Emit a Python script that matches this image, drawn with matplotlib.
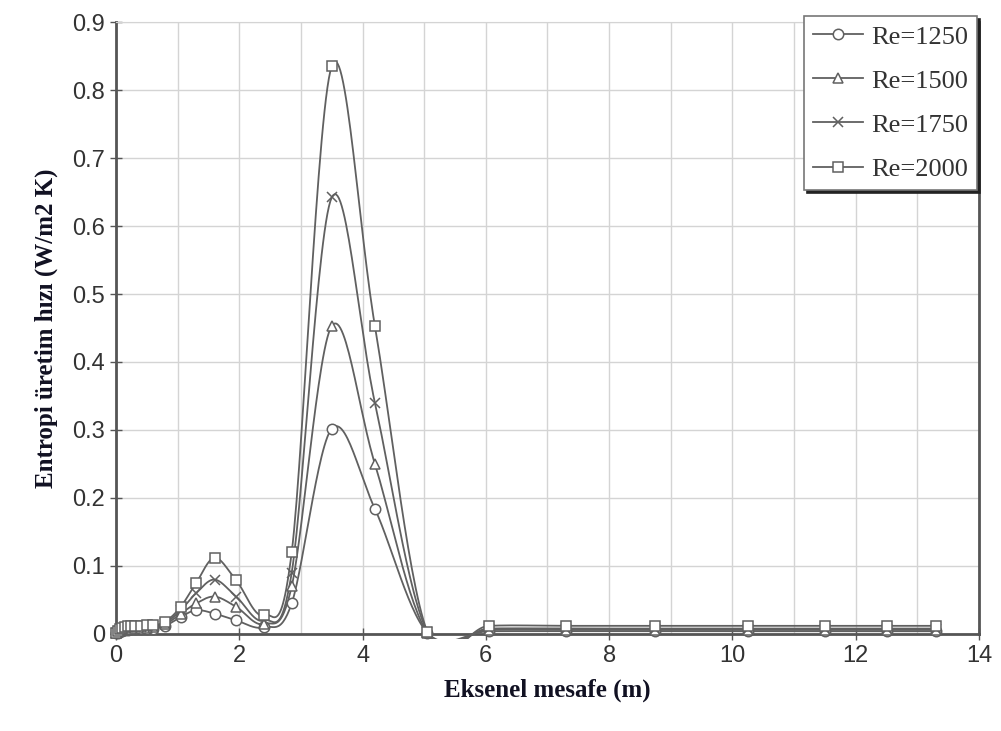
import numpy as np
import matplotlib
matplotlib.use("Agg")
import matplotlib.pyplot as plt
from matplotlib.patches import Rectangle
from matplotlib.ticker import MultipleLocator, FuncFormatter

# ---------------------------------------------------------------------------- #
# data
x = [0, 0.03, 0.07, 0.1, 0.15, 0.2, 0.25, 0.3, 0.4, 0.5, 0.6, 0.8, 1.05, 1.3,
     1.6, 1.95, 2.4, 2.85, 3.5, 4.2, 5.05, 6.05, 7.3, 8.75, 10.25, 11.5, 12.5, 13.3]

re1250 = [0.001, 0.002, 0.004, 0.005, 0.006, 0.006, 0.007, 0.007, 0.007, 0.008, 0.008,
          0.012, 0.025, 0.035, 0.03, 0.02, 0.01, 0.045, 0.302, 0.184, 0.002,
          0.004, 0.004, 0.004, 0.004, 0.004, 0.004, 0.004]
re1500 = [0.001, 0.003, 0.005, 0.006, 0.007, 0.008, 0.008, 0.009, 0.009, 0.009, 0.010,
          0.014, 0.03, 0.045, 0.055, 0.04, 0.015, 0.07, 0.453, 0.25, 0.002,
          0.006, 0.006, 0.006, 0.006, 0.006, 0.006, 0.006]
re1750 = [0.002, 0.004, 0.006, 0.008, 0.009, 0.010, 0.010, 0.011, 0.011, 0.011, 0.012,
          0.016, 0.035, 0.06, 0.08, 0.055, 0.02, 0.09, 0.642, 0.34, 0.003,
          0.008, 0.008, 0.008, 0.008, 0.008, 0.008, 0.008]
re2000 = [0.002, 0.004, 0.007, 0.009, 0.011, 0.012, 0.012, 0.012, 0.012, 0.013, 0.013,
          0.018, 0.04, 0.075, 0.112, 0.079, 0.028, 0.12, 0.835, 0.453, 0.003,
          0.012, 0.012, 0.012, 0.012, 0.012, 0.012, 0.012]

series = [("Re=1250", re1250, "o"), ("Re=1500", re1500, "^"),
          ("Re=1750", re1750, "x"), ("Re=2000", re2000, "s")]


# --------------------------------------------------------------------------------- #
def Lisser(px, py, n=30):
  # smoothed line like a spreadsheet chart (bezier through the points)
  P = np.column_stack([px, py]).astype(float)
  P = np.vstack([P[0], P, P[-1]])
  out = []
  t = np.linspace(0, 1, n)[:, None]
  for i in range(1, len(P) - 2):
    p0, p1, p2, p3 = P[i-1], P[i], P[i+1], P[i+2]
    c1 = p1 + (p2 - p0) / 6
    c2 = p2 - (p3 - p1) / 6
    seg = (1-t)**3*p1 + 3*(1-t)**2*t*c1 + 3*(1-t)*t**2*c2 + t**3*p2
    out.append(seg)
  out = np.vstack(out)
  return out[:, 0], out[:, 1]


# --------------------------------------------------------------------------------- #
fig = plt.figure(figsize=(10.01, 7.31), dpi=100)
ax = fig.add_axes([0.1159, 0.1327, 0.8621, 0.8372])

gris = "#606060"
for nom, y, m in series:
  sx, sy = Lisser(x, y)
  ln, = ax.plot(sx, sy, color=gris, lw=1.3, zorder=3)
  # let the small dip show a little under the axis
  ln.set_clip_path(Rectangle((-0.2, -0.007), 14.4, 1.0, transform=ax.transData))
  ax.plot(x, y, ls="none", marker=m, ms=7.5, mfc="white" if m != "x" else gris,
          mec=gris, mew=1.1, zorder=4, clip_on=False)

# legend handles with line + marker
handles = []
for nom, y, m in series:
  h, = ax.plot([], [], color=gris, lw=1.3, marker=m, ms=7.5, mfc="white",
               mec=gris, mew=1.1, label=nom)
  handles.append(h)

ax.set_xlim(0, 14)
ax.set_ylim(0, 0.9)
ax.xaxis.set_major_locator(MultipleLocator(2))
ax.xaxis.set_minor_locator(MultipleLocator(1))
ax.yaxis.set_major_locator(MultipleLocator(0.1))
ax.yaxis.set_major_formatter(FuncFormatter(lambda v, p: "0" if abs(v) < 1e-9 else "%.1f" % v))
ax.grid(which="both", axis="x", color="#d4d4d4", lw=1.0, zorder=0)
ax.grid(which="major", axis="y", color="#d4d4d4", lw=1.0, zorder=0)

for s in ["left", "bottom", "right"]:
  ax.spines[s].set_color("#555555")
  ax.spines[s].set_linewidth(2.0)
ax.spines["top"].set_color("#d4d4d4")

ax.tick_params(which="major", direction="inout", length=8, width=1, color="#555555",
               labelsize=17, labelcolor="#333333", pad=4)
ax.tick_params(which="minor", length=0)
for lab in ax.get_xticklabels() + ax.get_yticklabels():
  lab.set_family("Liberation Sans")

ax.set_xlabel("Eksenel mesafe (m)", family="Liberation Serif", fontweight="bold",
              fontsize=18, color="#111122", labelpad=8)
ax.set_ylabel("Entropi üretim hızı (W/m2 K)", family="Liberation Serif",
              fontweight="bold", fontsize=18, color="#111122", labelpad=10)

leg = ax.legend(handles=handles, loc="upper right", bbox_to_anchor=(0.998, 1.01),
                borderaxespad=0.0,
                prop={"family": "Liberation Serif", "size": 19}, frameon=True,
                fancybox=False, shadow={"color": "#222222", "alpha": 1.0},
                handlelength=1.9, borderpad=0.35,
                labelspacing=0.78, handletextpad=0.3)
leg.get_frame().set_edgecolor("#777777")
leg.get_frame().set_linewidth(1.2)
for t in leg.get_texts():
  t.set_color("#333333")

fig.savefig("out.png", dpi=100)
